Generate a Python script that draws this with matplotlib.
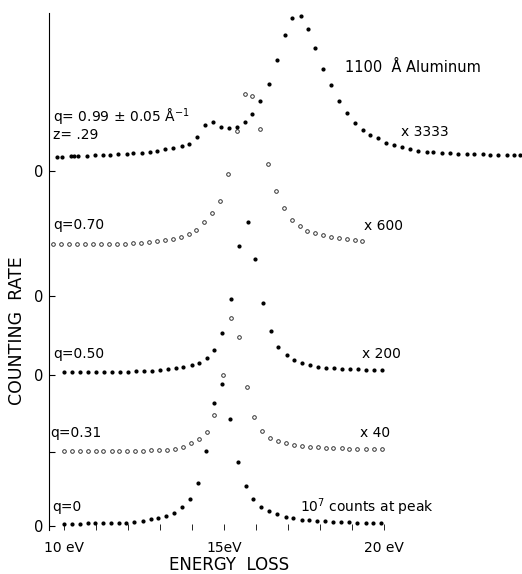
import numpy as np
import matplotlib
matplotlib.use('Agg')
import matplotlib.pyplot as plt

plt.rcParams['font.family'] = ['DejaVu Sans']

# energy loss (eV) and counting rate (arbitrary units, above each curve's own zero)
# q = 0   (filled dots)
e_q0 = [10.00, 10.25, 10.50, 10.74, 10.98, 11.22, 11.47, 11.72, 11.95, 12.20, 12.46,
        12.71, 12.95, 13.20, 13.44, 13.70, 13.94, 14.19, 14.44, 14.70, 14.95, 15.19,
        15.45, 15.68, 15.92, 16.16, 16.42, 16.67, 16.93, 17.17, 17.43, 17.67, 17.92,
        18.16, 18.40, 18.66, 18.92, 19.17, 19.44, 19.67, 19.90]
i_q0 = [0.25, 0.25, 0.25, 0.27, 0.27, 0.27, 0.30, 0.30, 0.33, 0.40, 0.55,
        0.70, 0.83, 0.97, 1.35, 1.87, 2.70, 4.30, 7.50, 12.33, 14.20, 10.70,
        6.43, 4.00, 2.67, 1.93, 1.50, 1.20, 0.95, 0.80, 0.65, 0.57, 0.52,
        0.50, 0.43, 0.40, 0.37, 0.33, 0.30, 0.27, 0.27]

# q = 0.31   (open circles)
e_q31 = [10.00, 10.24, 10.50, 10.74, 10.99, 11.23, 11.49, 11.73, 11.98, 12.22, 12.48,
         12.72, 12.97, 13.21, 13.47, 13.71, 13.97, 14.22, 14.46, 14.70, 14.98, 15.21,
         15.47, 15.71, 15.95, 16.20, 16.44, 16.69, 16.94, 17.19, 17.43, 17.69, 17.93,
         18.19, 18.42, 18.68, 18.92, 19.17, 19.44, 19.70, 19.93]
i_q31 = [0.13, 0.13, 0.13, 0.13, 0.13, 0.13, 0.13, 0.13, 0.13, 0.13, 0.15,
         0.17, 0.20, 0.25, 0.32, 0.55, 0.90, 1.28, 2.00, 3.68, 7.73, 13.37,
         11.50, 6.47, 3.53, 2.10, 1.43, 1.10, 0.88, 0.72, 0.63, 0.50, 0.47,
         0.42, 0.37, 0.37, 0.30, 0.30, 0.30, 0.30, 0.30]

# q = 0.50   (filled dots)
e_q50 = [10.00, 10.26, 10.50, 10.76, 11.00, 11.25, 11.51, 11.75, 12.01, 12.25, 12.51,
         12.74, 13.00, 13.24, 13.49, 13.73, 13.99, 14.23, 14.47, 14.70, 14.95, 15.22,
         15.48, 15.75, 15.96, 16.23, 16.46, 16.70, 16.96, 17.19, 17.44, 17.69, 17.95,
         18.20, 18.44, 18.70, 18.94, 19.20, 19.44, 19.69, 19.95]
i_q50 = [0.27, 0.27, 0.27, 0.27, 0.27, 0.27, 0.30, 0.30, 0.33, 0.37, 0.40,
         0.43, 0.50, 0.60, 0.73, 0.83, 0.97, 1.17, 1.67, 2.50, 4.25, 7.60,
         12.87, 15.33, 11.60, 7.25, 4.38, 2.85, 2.04, 1.50, 1.23, 0.98, 0.85,
         0.75, 0.67, 0.60, 0.57, 0.57, 0.50, 0.50, 0.50]

# q = 0.70   (open circles)
e_q70 = [9.67, 9.91, 10.16, 10.42, 10.66, 10.92, 11.16, 11.41, 11.65, 11.91,
         12.17, 12.41, 12.66, 12.90, 13.16, 13.40, 13.66, 13.91, 14.14, 14.38,
         14.63, 14.88, 15.13, 15.40, 15.65, 15.88, 16.13, 16.38, 16.63, 16.88,
         17.12, 17.36, 17.60, 17.85, 18.10, 18.34, 18.60, 18.85, 19.09, 19.32]
i_q70 = [5.17, 5.17, 5.17, 5.17, 5.17, 5.17, 5.17, 5.20, 5.20, 5.20,
         5.27, 5.33, 5.40, 5.47, 5.57, 5.67, 5.87, 6.17, 6.58, 7.38,
         8.32, 9.50, 12.17, 16.47, 20.17, 19.97, 16.67, 13.17, 10.53, 8.77,
         7.65, 6.97, 6.50, 6.27, 6.08, 5.87, 5.77, 5.67, 5.57, 5.53]

# q = 0.99   (filled dots)
e_q99 = [9.79, 9.93, 10.21, 10.31, 10.45, 10.71, 10.97, 11.23, 11.44, 11.70, 11.96,
         12.17, 12.43, 12.69, 12.90, 13.16, 13.42, 13.68, 13.92, 14.17, 14.42, 14.66,
         14.90, 15.15, 15.40, 15.65, 15.88, 16.13, 16.40, 16.65, 16.91, 17.13, 17.41,
         17.63, 17.84, 18.09, 18.34, 18.59, 18.84, 19.09, 19.34, 19.56, 19.81, 20.06,
         20.31, 20.56, 20.81, 21.07, 21.33, 21.54, 21.80, 22.06, 22.32, 22.58, 22.82,
         23.08, 23.31, 23.57, 23.83, 24.07, 24.25]
i_q99 = [1.43, 1.43, 1.47, 1.50, 1.50, 1.50, 1.57, 1.60, 1.60, 1.67, 1.70,
         1.77, 1.83, 1.93, 2.03, 2.17, 2.33, 2.50, 2.70, 3.40, 4.57, 4.90,
         4.37, 4.27, 4.40, 4.90, 5.70, 7.00, 8.75, 11.15, 13.60, 15.30, 15.50,
         14.20, 12.30, 10.20, 8.60, 7.00, 5.80, 4.80, 4.10, 3.60, 3.30, 2.80,
         2.60, 2.40, 2.20, 2.03, 1.93, 1.87, 1.77, 1.77, 1.70, 1.70, 1.67,
         1.67, 1.60, 1.60, 1.60, 1.60, 1.60]

# zero level of every curve on the common vertical axis
zero_levels = [0.0, 7.4, 15.1, 23.0, 35.5]
zero_labels = ['0', '', '0', '0', '0']

q_labels = ['q=0', 'q=0.31', 'q=0.50', 'q=0.70']
scale_labels = ['10$^7$ counts at peak', 'x 40', 'x 200', 'x 600']
x_tick_labels = ['10 eV', '15eV', '20 eV']

W, H = 522, 574
fig = plt.figure(figsize=(W / 100, H / 100), dpi=100)
ax = fig.add_axes([49 / W, 44 / H, 473 / W, 517 / H])
ax.set_xlim(9.53125, 24.3125)
ax.set_ylim(-0.4, 51.3)

filled = dict(ls='none', marker='o', ms=2.0, color='black', clip_on=False)
hollow = dict(ls='none', marker='o', ms=2.6, mfc='white', mec='#333333', mew=0.7, clip_on=False)

series = [(e_q0, i_q0, filled), (e_q31, i_q31, hollow), (e_q50, i_q50, filled),
          (e_q70, i_q70, hollow), (e_q99, i_q99, filled)]
for (e, i, style), z in zip(series, zero_levels):
    ax.plot(e, np.array(i) + z, **style)

# axes: only the left line, ticks pointing inwards
for side in ['top', 'right', 'bottom']:
    ax.spines[side].set_visible(False)
ax.spines['left'].set_linewidth(0.8)
ax.set_yticks(zero_levels)
ax.set_yticklabels(zero_labels, fontsize=10.5)
ax.set_xticks([10, 15, 20])
ax.set_xticklabels(x_tick_labels, fontsize=10)
ax.set_xticks(np.arange(10, 21), minor=True)
ax.tick_params(axis='y', direction='in', length=4, width=0.8, pad=4)
ax.tick_params(axis='x', which='both', direction='in', length=4, width=0.6, pad=8)

# labels on the curves
fs = 10
ax.text(9.656, 40.9, 'q= 0.99 ± 0.05 Å$^{-1}$', fontsize=fs, va='center')
ax.text(9.656, 39.1, 'z= .29', fontsize=fs, va='center')
ax.text(18.78, 45.9, '1100  Å Aluminum', fontsize=10.5, va='center')
ax.text(20.53, 39.4, 'x 3333', fontsize=fs, va='center')
q_pos = [(9.625, 1.9), (9.5625, 9.3), (9.656, 17.2), (9.656, 30.1)]
s_pos = [(17.375, 1.9), (19.25, 9.3), (19.31, 17.2), (19.375, 30.0)]
for lab, (x, y) in zip(q_labels, q_pos):
    ax.text(x, y, lab, fontsize=fs, va='center')
for lab, (x, y) in zip(scale_labels, s_pos):
    ax.text(x, y, lab, fontsize=fs, va='center')

fig.text(229 / W, 1 - 565 / H, 'ENERGY  LOSS', fontsize=12, ha='center', va='center')
fig.text(17 / W, 1 - 331 / H, 'COUNTING  RATE', fontsize=12.5, ha='center', va='center',
         rotation=90)

fig.savefig('out.png', dpi=100)
